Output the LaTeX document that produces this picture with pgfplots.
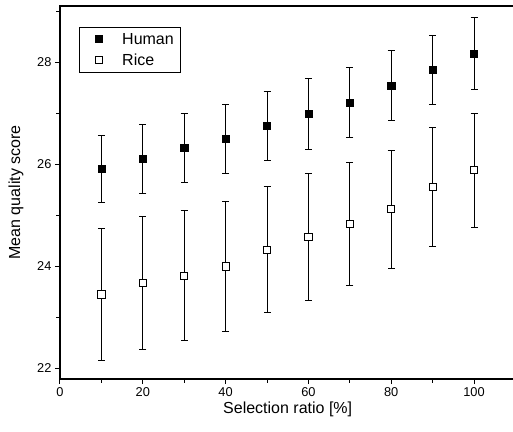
\documentclass[border=0pt]{standalone}
\usepackage{pgfplots}
\pgfplotsset{compat=1.18}
\usepackage{fontspec}
\setmainfont{Liberation Sans}
\begin{document}
\begin{tikzpicture}
\useasboundingbox (-60bp,-53bp) rectangle (453bp,379bp);
\begin{axis}[
    scale only axis,
    width=455.4bp,
    height=373bp,
    xmin=0, xmax=110,
    ymin=21.79, ymax=29.11,
    xtick={0,20,...,100},
    ytick={22,24,26,28},
    minor xtick={10,30,...,110},
    minor ytick={23,25,27,29},
    tick pos=left,
    tick align=outside,
    major tick length=5bp,
    minor tick length=3.5bp,
    every tick/.style={black, line width=1bp},
    axis line style={line width=1.5bp},
    /pgf/number format/assume math mode=true,
    tick label style={font=\fontsize{12.8bp}{14bp}\selectfont},
    label style={font=\fontsize{16bp}{18bp}\selectfont},
    xlabel={Selection ratio [\%]},
    ylabel={Mean quality score},
    xlabel style={yshift=2bp},
    ylabel style={yshift=7bp},
    legend style={at={(0.042,0.945)}, anchor=north west,
        font=\fontsize{16bp}{18bp}\selectfont, draw=black, line width=1bp,
        row sep=4bp, inner xsep=5bp, inner ysep=4bp},
    legend cell align=left,
    legend image code/.code={\path (0bp,0bp);
        \draw[mark repeat=2,mark phase=2,#1]
        plot coordinates {(5bp,0cm)(13.5bp,0cm)(22bp,0cm)};},
    error bars/error bar style={black, line width=1bp},
    error bars/error mark options={rotate=90, mark size=3.5bp, line width=1bp, black},
]
\addplot[only marks, mark=square*, mark size=3.6bp, mark options={fill=black, draw=black},
    error bars/.cd, y dir=both, y explicit] coordinates {
    (10, 25.91) +- (0, 0.65)
    (20, 26.11) +- (0, 0.67)
    (30, 26.33) +- (0, 0.68)
    (40, 26.50) +- (0, 0.67)
    (50, 26.76) +- (0, 0.68)
    (60, 26.99) +- (0, 0.70)
    (70, 27.21) +- (0, 0.69)
    (80, 27.55) +- (0, 0.68)
    (90, 27.86) +- (0, 0.68)
    (100, 28.18) +- (0, 0.70)
};
\addlegendentry{\hspace{18bp}Human}
\addplot[only marks, mark=square*, mark size=3.6bp, mark options={fill=white, draw=black, line width=0.9bp},
    error bars/.cd, y dir=both, y explicit] coordinates {
    (10, 23.45) +- (0, 1.29)
    (20, 23.67) +- (0, 1.31)
    (30, 23.82) +- (0, 1.27)
    (40, 24.00) +- (0, 1.28)
    (50, 24.33) +- (0, 1.23)
    (60, 24.58) +- (0, 1.25)
    (70, 24.83) +- (0, 1.21)
    (80, 25.12) +- (0, 1.16)
    (90, 25.56) +- (0, 1.16)
    (100, 25.89) +- (0, 1.12)
};
\addlegendentry{\hspace{18bp}Rice}
\end{axis}
\end{tikzpicture}
\end{document}
